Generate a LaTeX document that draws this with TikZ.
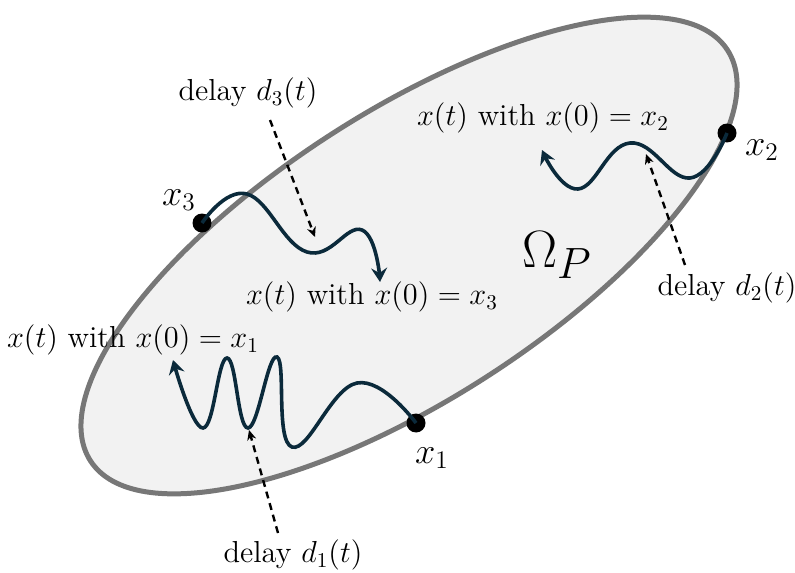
\documentclass[tikz,border=0pt]{standalone}
\usetikzlibrary{arrows.meta}
\definecolor{trajcol}{HTML}{0B2A3B}
\definecolor{rimcol}{HTML}{777777}
\definecolor{setcol}{HTML}{F2F2F2}
\begin{document}
\begin{tikzpicture}[x=0.5pt, y=0.5pt, every node/.style={font=\Large, scale=1.055, transform shape},
    traj/.style={draw=trajcol, line width=1.8pt, -{Stealth[length=7pt, width=8pt, inset=2.5pt]}},
    delay/.style={line width=1.2pt, dash pattern=on 3.5pt off 2.5pt, -{Stealth[length=5pt, width=4.5pt]}},
    pt/.style={circle, fill, inner sep=0pt, minimum size=9pt}]
  \useasboundingbox (0,0) rectangle (795,-572);
  \draw[rimcol, fill=setcol, line width=2.5pt] (409,-255.5) ellipse [x radius=379, y radius=144, rotate=32.8];
  \node[font=\Huge] (omega) at (557,-255) {$\Omega_P$};
  % initial states
  \foreach \n/\a/\b/\c/\d in {1/416/423/432/458, 2/727/133/762/150, 3/202/223/179/200} {
    \node[pt] (x\n) at (\a,-\b) {};
    \node[font=\LARGE] (lx\n) at (\c,-\d) {$x_\n$};
  }
  % trajectories
  \coordinate (t1) at (173,-360);
  \coordinate (t2) at (542,-150);
  \coordinate (t3) at (380,-282);
  \draw[traj] plot[smooth, tension=0.75] coordinates {(x1.center) (357,-383) (292,-447) (277,-357) (248,-428) (227,-358) (203,-428) (t1)};
  \draw[traj] plot[smooth, tension=0.75] coordinates {(x2.center) (690,-178) (630,-143) (578,-189) (t2)};
  \draw[traj] plot[smooth, tension=0.75] coordinates {(x3.center) (247,-194) (307,-252) (362,-230) (t3)};
  \foreach \n/\a/\b in {1/133/340, 2/543/118, 3/372/297}
    \node (s\n) at (\a,-\b) {$x(t)$ with $x(0)=x_\n$};
  % delays
  \foreach \n/\a/\b in {1/293/555, 2/727/288, 3/248/93}
    \node (d\n) at (\a,-\b) {delay $d_\n(t)$};
  \coordinate (a1) at (278,-533); \coordinate (b1) at (249,-430);
  \coordinate (a2) at (685,-265); \coordinate (b2) at (646,-154);
  \coordinate (a3) at (270,-120); \coordinate (b3) at (315,-237);
  \foreach \n in {1,2,3}
    \draw[delay] (a\n) -- (b\n);
\end{tikzpicture}
\end{document}
